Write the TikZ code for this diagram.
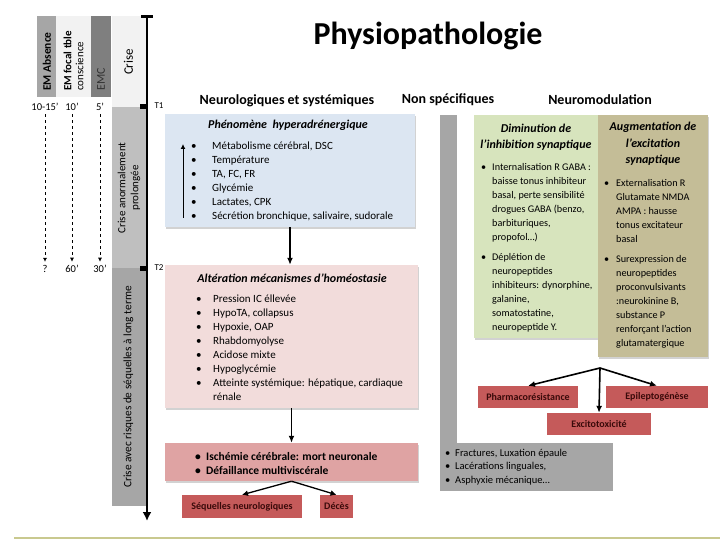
\documentclass[tikz,border=0pt]{standalone}
\usepackage{fontspec}
\setmainfont{Carlito}
\usetikzlibrary{arrows.meta,positioning,shadows}
\definecolor{GrisMoyen}{HTML}{A6A6A6}
\definecolor{GrisClair}{HTML}{F2F2F2}
\definecolor{GrisFonce}{HTML}{7F7F7F}
\definecolor{GrisPale}{HTML}{BFBFBF}
\definecolor{Bleu}{HTML}{DCE6F2}
\definecolor{Rose}{HTML}{F2DCDB}
\definecolor{RoseFonce}{HTML}{DFA3A3}
\definecolor{Rouge}{HTML}{C55A5A}
\definecolor{TexteRouge}{HTML}{3A0A0A}
\definecolor{Vert}{HTML}{D7E4BD}
\definecolor{Beige}{HTML}{C4BD97}
\definecolor{Olive}{HTML}{C9C98F}
\newcommand{\puce}[1][12pt]{\makebox[#1][l]{\textbullet}}

\begin{document}
\begin{tikzpicture}[
  x=1pt,y=-1pt,
  font=\fontsize{11}{14}\selectfont,
  >=Latex,
  boite/.style={rectangle,inner sep=0pt,drop shadow={shadow xshift=1pt,shadow yshift=-2pt,opacity=.35}},
  entete/.style={font=\fontsize{14}{16}\selectfont\bfseries},
  titrebox/.style={font=\fontsize{12}{16.5}\selectfont\bfseries\itshape,align=center,inner sep=0pt},
  liste/.style={anchor=north west,inner sep=0pt,align=left},
  petiteliste/.style={liste,font=\fontsize{10.2}{14}\selectfont},
  issue/.style={rectangle,fill=Rouge,text=TexteRouge,inner sep=0pt,font=\fontsize{10}{12}\selectfont\bfseries},
  colonne/.style={rotate=90,inner sep=0pt},
  fleche/.style={-{Latex[length=7pt,width=6pt]},line width=1.6pt},
  tiret/.style={-{Latex[length=4pt,width=4pt]},dashed,line width=.7pt}
]
  \useasboundingbox[fill=white] (0,0) rectangle (720,540);
  \node[font=\fontsize{32}{36}\selectfont\bfseries] (titre) at (428,36) {Physiopathologie};

  % colonnes de gauche
  \fill[GrisMoyen] (37,16) rectangle (56,97);
  \fill[GrisClair] (56,16) rectangle (91,97);
  \fill[GrisFonce] (91,16) rectangle (111,97);
  \fill[GrisClair] (112,16) rectangle (146,107);
  \fill[GrisPale] (112,107) rectangle (146,268);
  \fill[GrisMoyen] (112,268) rectangle (146,506);
  \node[colonne,anchor=west,font=\fontsize{11.5}{12}\selectfont\bfseries] (absence) at (47,91) {EM Absence};
  \node[colonne,anchor=west,align=left,font=\fontsize{11}{12}\selectfont] (focal) at (73.5,91)
    {\textbf{EM focal tble}\\conscience};
  \node[colonne,anchor=west,font=\fontsize{12}{12}\selectfont,text=black!80] (emc) at (101,91) {EMC};
  \node[colonne,font=\fontsize{13}{14}\selectfont] (crise) at (128.5,62) {Crise};
  \node[colonne,align=center,font=\fontsize{11}{13}\selectfont] (prolongee) at (129,188)
    {Crise anormalement\\prolongée};
  \node[colonne,font=\fontsize{11.3}{13}\selectfont] (longterme) at (128.5,387)
    {Crise avec risques de séquelles à long terme};

  % axe du temps
  \coordinate (haut) at (147,17);
  \coordinate (bas) at (147,521);
  \draw[line width=2.6pt,-{Latex[length=9pt,width=9pt]}] (haut) -- (bas);
  \draw[line width=3pt] (141,17) -- (153,17);
  \fill (140,104.5) rectangle (147,109.5);
  \fill (140,265.5) rectangle (147,270.5);
  \node[font=\fontsize{9}{10}\selectfont] (T1) at (159,106) {T1};
  \node[font=\fontsize{9}{10}\selectfont] (T2) at (159,268) {T2};

  \node[font=\fontsize{10.5}{12}\selectfont] (d1) at (45,107) {10-15’};
  \node[font=\fontsize{10.5}{12}\selectfont] (d2) at (72,107) {10’};
  \node[font=\fontsize{10.5}{12}\selectfont] (d3) at (100,107) {5’};
  \node[font=\fontsize{10.5}{12}\selectfont] (f1) at (45,269) {?};
  \node[font=\fontsize{10.5}{12}\selectfont] (f2) at (72,269) {60’};
  \node[font=\fontsize{10.5}{12}\selectfont] (f3) at (100,269) {30’};
  \draw[tiret] (d1) -- (f1);
  \draw[tiret] (d2) -- (f2);
  \draw[tiret] (d3) -- (f3);

  % en-tetes
  \node[entete] (neuro) at (287,101) {Neurologiques et systémiques};
  \node[entete] (nonspe) at (448,100) {Non spécifiques};
  \node[entete] (neuromod) at (600,100) {Neuromodulation};

  % neurologiques et systemiques
  \node[boite,fill=Bleu,minimum width=250pt,minimum height=113pt] (hyper) at (290,170.5) {};
  \node[titrebox] (hypertitre) at (288,125) {Phénomène\ \ hyperadrénergique};
  \node[liste] (hyperliste) at (191,142)
    {\puce[21pt]Métabolisme cérébral, DSC\\\puce[21pt]Température\\\puce[21pt]TA, FC, FR\\
     \puce[21pt]Glycémie\\\puce[21pt]Lactates, CPK\\\puce[21pt]Sécrétion bronchique, salivaire, sudorale};
  \coordinate (hausse0) at (183,218);
  \coordinate (hausse1) at (183,144);
  \draw[-{Latex[length=5pt,width=5pt]},line width=1pt] (hausse0) -- (hausse1);

  \node[boite,fill=Rose,minimum width=253pt,minimum height=143pt] (homeo) at (291.5,336.5) {};
  \node[titrebox] (homeotitre) at (292,278) {Altération mécanismes d’homéostasie};
  \node[liste] (homeoliste) at (196,295)
    {\puce[17pt]Pression IC éllevée\\\puce[17pt]HypoTA, collapsus\\\puce[17pt]Hypoxie, OAP\\
     \puce[17pt]Rhabdomyolyse\\\puce[17pt]Acidose mixte\\\puce[17pt]Hypoglycémie\\
     \puce[17pt]Atteinte systémique: hépatique, cardiaque\\\hspace*{17pt}rénale};

  \node[boite,fill=RoseFonce,minimum width=253pt,minimum height=38pt] (ischemie) at (291.5,462) {};
  \node[liste,font=\fontsize{11.5}{14}\selectfont\bfseries] (ischemieliste) at (195,452)
    {\puce[11pt]Ischémie cérébrale: mort neuronale\\\puce[11pt]Défaillance multiviscérale};

  \node[issue,minimum width=120pt,minimum height=23pt] (sequelles) at (242,506.5) {Séquelles neurologiques};
  \node[issue,minimum width=33pt,minimum height=23pt] (deces) at (336.5,506.5) {Décès};

  \draw[fleche] (hyper.south) -- (hyper.south |- homeo.north);
  \draw[fleche] (homeo.south) -- (homeo.south |- ischemie.north);
  \draw[-{Latex[length=6pt,width=6pt]},line width=1.3pt] (ischemie.south) -- (sequelles.north);
  \draw[-{Latex[length=6pt,width=6pt]},line width=1.3pt] (ischemie.south) -- (deces.north);

  % non specifiques
  \fill[GrisMoyen] (440,115) rectangle (457,445);
  \node[fill=GrisMoyen,inner sep=0pt,minimum width=173pt,minimum height=48pt] (trauma) at (526.5,467) {};
  \node[liste,font=\fontsize{10.5}{13.5}\selectfont] (traumaliste) at (445,449)
    {\puce[10pt]Fractures, Luxation épaule\\\puce[10pt]Lacérations linguales,\\\puce[10pt]Asphyxie mécanique…};

  % neuromodulation
  \node[boite,fill=Vert,minimum width=124pt,minimum height=223pt] (inhib) at (536,226.5) {};
  \node[titrebox] (inhibtitre) at (536,137) {Diminution de\\l’inhibition synaptique};
  \node[petiteliste] (inhibliste) at (481,163)
    {\puce[11pt]Internalisation R GABA :\\\hspace*{11pt}baisse tonus inhibiteur\\
     \hspace*{11pt}basal, perte sensibilité\\\hspace*{11pt}drogues GABA (benzo,\\
     \hspace*{11pt}barbituriques,\\\hspace*{11pt}propofol…)\\[6pt]
     \puce[11pt]Déplétion de\\\hspace*{11pt}neuropeptides\\\hspace*{11pt}inhibiteurs: dynorphine,\\
     \hspace*{11pt}galanine,\\\hspace*{11pt}somatostatine,\\\hspace*{11pt}neuropeptide Y.};

  \node[boite,fill=Beige,minimum width=110pt,minimum height=242pt] (excit) at (653,236) {};
  \node[titrebox] (excittitre) at (653,144) {Augmentation de\\l’excitation\\synaptique};
  \node[petiteliste] (excitliste) at (604,179)
    {\puce[12pt]Externalisation R\\\hspace*{12pt}Glutamate NMDA\\\hspace*{12pt}AMPA : hausse\\
     \hspace*{12pt}tonus excitateur\\\hspace*{12pt}basal\\[6pt]
     \puce[12pt]Surexpression de\\\hspace*{12pt}neuropeptides\\\hspace*{12pt}proconvulsivants\\
     \hspace*{12pt}:neurokinine B,\\\hspace*{12pt}substance P\\\hspace*{12pt}renforçant l’action\\
     \hspace*{12pt}glutamatergique};

  \node[issue,minimum width=100pt,minimum height=22pt] (pharma) at (528,397) {Pharmacorésistance};
  \node[issue,minimum width=102pt,minimum height=22pt] (epilepto) at (657,397) {Epileptogénèse};
  \node[issue,minimum width=104pt,minimum height=22pt] (excito) at (599,424) {Excitotoxicité};
  \coordinate (fourche) at (600,368);
  \draw[fleche] (fourche) -- (pharma.north);
  \draw[fleche] (fourche) -- (excito.north);
  \draw[fleche] (fourche) -- (epilepto.north);

  \draw[Olive,line width=2pt] (14,538) -- (720,538);
\end{tikzpicture}
\end{document}
